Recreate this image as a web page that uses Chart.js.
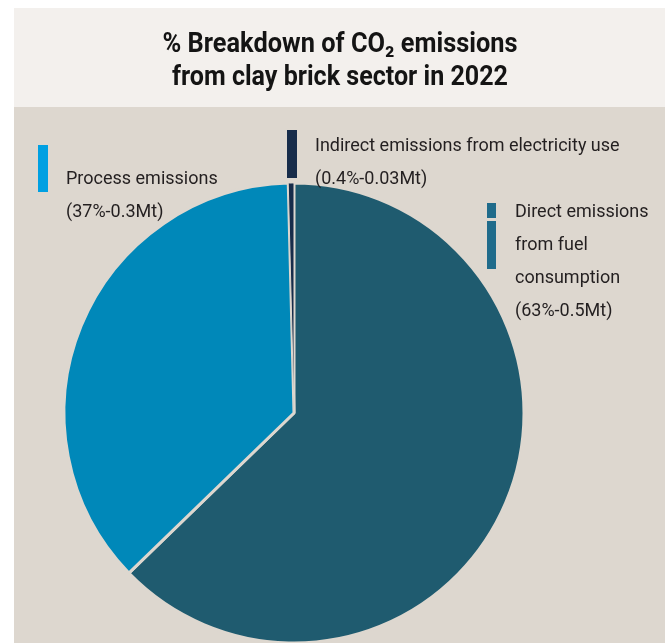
<!DOCTYPE html>
<html>
<head>
<meta charset="utf-8">
<script src="https://cdn.jsdelivr.net/npm/chart.js@4/dist/chart.umd.min.js"></script>
<style>
  html, body { margin: 0; padding: 0; background: #fff; }
  #wrap { width: 669px; height: 643px; }
</style>
</head>
<body>
<div id="wrap"><canvas id="chart-pie" width="669" height="643"></canvas></div>
<script>
  // доли выбросов, %
  const categories = [
    "Direct emissions from fuel consumption",
    "Process emissions",
    "Indirect emissions from electricity use",
  ];
  const shares = [63, 37, 0.4];
  const tonnes = ["0.5Mt", "0.3Mt", "0.03Mt"];

  // подписи-легенды, разбитые по строкам
  const legendLines = [
    ["Direct emissions", "from fuel", "consumption"],
    ["Process emissions"],
    ["Indirect emissions from electricity use"],
  ];
  const titleLines = ["% Breakdown of CO₂ emissions", "from clay brick sector in 2022"];

  const sliceColors = ["#1f5b6f", "#0088b9", "#172c4a"];
  const barColors = ["#1f6b8b", "#00a0e2", "#172c4a"];
  const panelColor = "#ddd7cf";
  const FONT = 'Roboto, "Open Sans", "DejaVu Sans", sans-serif';

  // текст сжимается/растягивается по ширине до заданной
  function fitText(ctx, text, x, y, targetW) {
    const w = ctx.measureText(text).width;
    ctx.save();
    ctx.translate(x, y);
    ctx.scale(targetW / w, 1);
    ctx.fillText(text, 0, 0);
    ctx.restore();
  }

  const canvas = document.getElementById("chart-pie");
  const ctx = canvas.getContext("2d");

  new Chart(ctx, {
    type: "pie",
    data: {
      labels: categories,
      datasets: [
        {
          data: shares,
          backgroundColor: sliceColors,
          borderColor: panelColor, // зазор между секторами в цвет фона
          borderWidth: [3, 3, 1], // узкий сектор с тонкой рамкой, чтобы не пропал
          hoverOffset: 0,
        },
      ],
    },
    options: {
      responsive: false,
      animation: false,
      radius: 230,
      layout: { padding: { top: 183, right: 81, bottom: 0, left: 0 } },
      plugins: {
        legend: { display: false },
        tooltip: { enabled: false },
      },
    },
    plugins: [
      {
        // фон: светлая плашка заголовка и бежевая панель
        id: "panels",
        beforeDraw(chart) {
          const c = chart.ctx;
          c.save();
          c.fillStyle = "#fff";
          c.fillRect(0, 0, chart.width, chart.height);
          c.fillStyle = "#f3f0ed";
          c.fillRect(14, 8, 651, 99);
          c.fillStyle = panelColor;
          c.fillRect(14, 107, 651, 536);

          c.fillStyle = "#141414";
          c.font = "bold 27px " + FONT;
          c.textAlign = "center";
          c.textBaseline = "middle";
          fitText(c, titleLines[0], 340, 45, 355);
          fitText(c, titleLines[1], 340, 78, 336);
          c.restore();
        },
      },
      {
        // подписи секторов с цветными полосками
        id: "sideLabels",
        afterDraw(chart) {
          const c = chart.ctx;
          c.save();
          c.font = "18px " + FONT;
          c.textAlign = "left";
          c.textBaseline = "middle";

          const blocks = [
            { x: 515, y: 212, step: 33, bars: [[487, 203, 9, 15], [487, 221, 9, 48]] },
            { x: 66, y: 179, step: 33, bars: [[38, 145, 10, 47]] },
            { x: 315, y: 146, step: 33, bars: [[287, 130, 10, 48]] },
          ];

          blocks.forEach((b, i) => {
            c.fillStyle = barColors[i];
            b.bars.forEach(([x, y, w, h]) => c.fillRect(x, y, w, h));
            c.fillStyle = "#231f20";
            const lines = legendLines[i].concat(`(${shares[i]}%-${tonnes[i]})`);
            lines.forEach((t, k) => c.fillText(t, b.x, b.y + k * b.step));
          });
          c.restore();
        },
      },
    ],
  });
</script>
</body>
</html>
